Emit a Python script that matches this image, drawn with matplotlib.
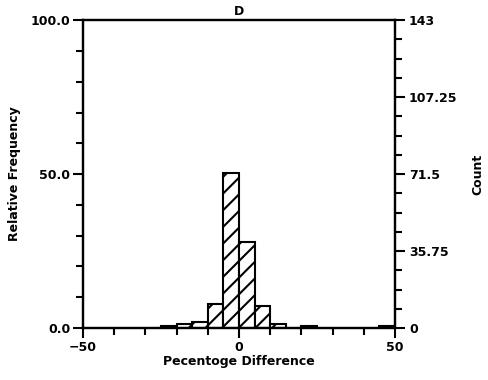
import matplotlib
matplotlib.use("Agg")
import matplotlib.pyplot as plt
import numpy as np
from matplotlib.ticker import MultipleLocator, FixedLocator

# Histogram data (bin left edges, width 5) and counts
bin_edges_left = [-25, -20, -15, -10, -5, 0, 5, 10, 20, 45]
counts = [1, 2, 3, 11, 72, 40, 10, 2, 1, 1]
bin_width = 5
total = 143

title = "D"
xlabel = "Pecentoge Difference"
ylabel_left = "Relative Frequency"
ylabel_right = "Count"
left_ticks = [0, 50, 100]
left_labels = ["0.0", "50.0", "100.0"]
right_ticks = [0, 35.75, 71.5, 107.25, 143]
right_labels = ["0", "35.75", "71.5", "107.25", "143"]
x_ticks = [-50, 0, 50]
x_labels = ["\u221250", "0", "50"]

plt.rcParams['font.family'] = ['DejaVu Sans']
plt.rcParams['hatch.linewidth'] = 1.5

FS = 9
FW = 'bold'

fig = plt.figure(figsize=(4.89, 3.80), dpi=100)
ax = fig.add_axes([0.1697, 0.1368, 0.8078 - 0.1697, 0.947 - 0.1368])

rel = [c / total * 100 for c in counts]
ax.bar(bin_edges_left, rel, width=bin_width, align='edge', facecolor='white',
       edgecolor='black', linewidth=1.5, hatch='//', zorder=2)

ax.set_xlim(-50, 50)
ax.set_ylim(0, 100)
ax.set_xticks(x_ticks)
ax.set_xticklabels(x_labels, fontsize=FS, fontweight=FW)
ax.xaxis.set_minor_locator(MultipleLocator(10))
ax.set_yticks(left_ticks)
ax.set_yticklabels(left_labels, fontsize=FS, fontweight=FW)
ax.yaxis.set_minor_locator(MultipleLocator(10))

for s in ax.spines.values():
    s.set_linewidth(1.6)

ax.tick_params(axis='both', which='major', direction='out', length=7, width=1.5, pad=2)
ax.tick_params(axis='both', which='minor', direction='out', length=5, width=1.5)
ax.tick_params(axis='y', right=False)
ax.tick_params(axis='x', top=False)

ax.set_title(title, fontsize=FS, fontweight=FW, pad=4)
ax.set_xlabel(xlabel, fontsize=FS, fontweight=FW, labelpad=1)
ax.set_ylabel(ylabel_left, fontsize=FS, fontweight=FW, labelpad=7)

ax2 = ax.twinx()
ax2.set_ylim(0, total)
ax2.yaxis.set_major_locator(FixedLocator(right_ticks))
ax2.set_yticklabels(right_labels, fontsize=FS, fontweight=FW)
ax2.yaxis.set_minor_locator(MultipleLocator(total / 16))
ax2.tick_params(axis='y', which='major', direction='out', length=7, width=1.5, pad=3)
ax2.tick_params(axis='y', which='minor', direction='out', length=5, width=1.5)
ax2.set_ylabel(ylabel_right, fontsize=FS, fontweight=FW, labelpad=10)
for s in ax2.spines.values():
    s.set_linewidth(1.6)

fig.savefig("out.png", dpi=100)
